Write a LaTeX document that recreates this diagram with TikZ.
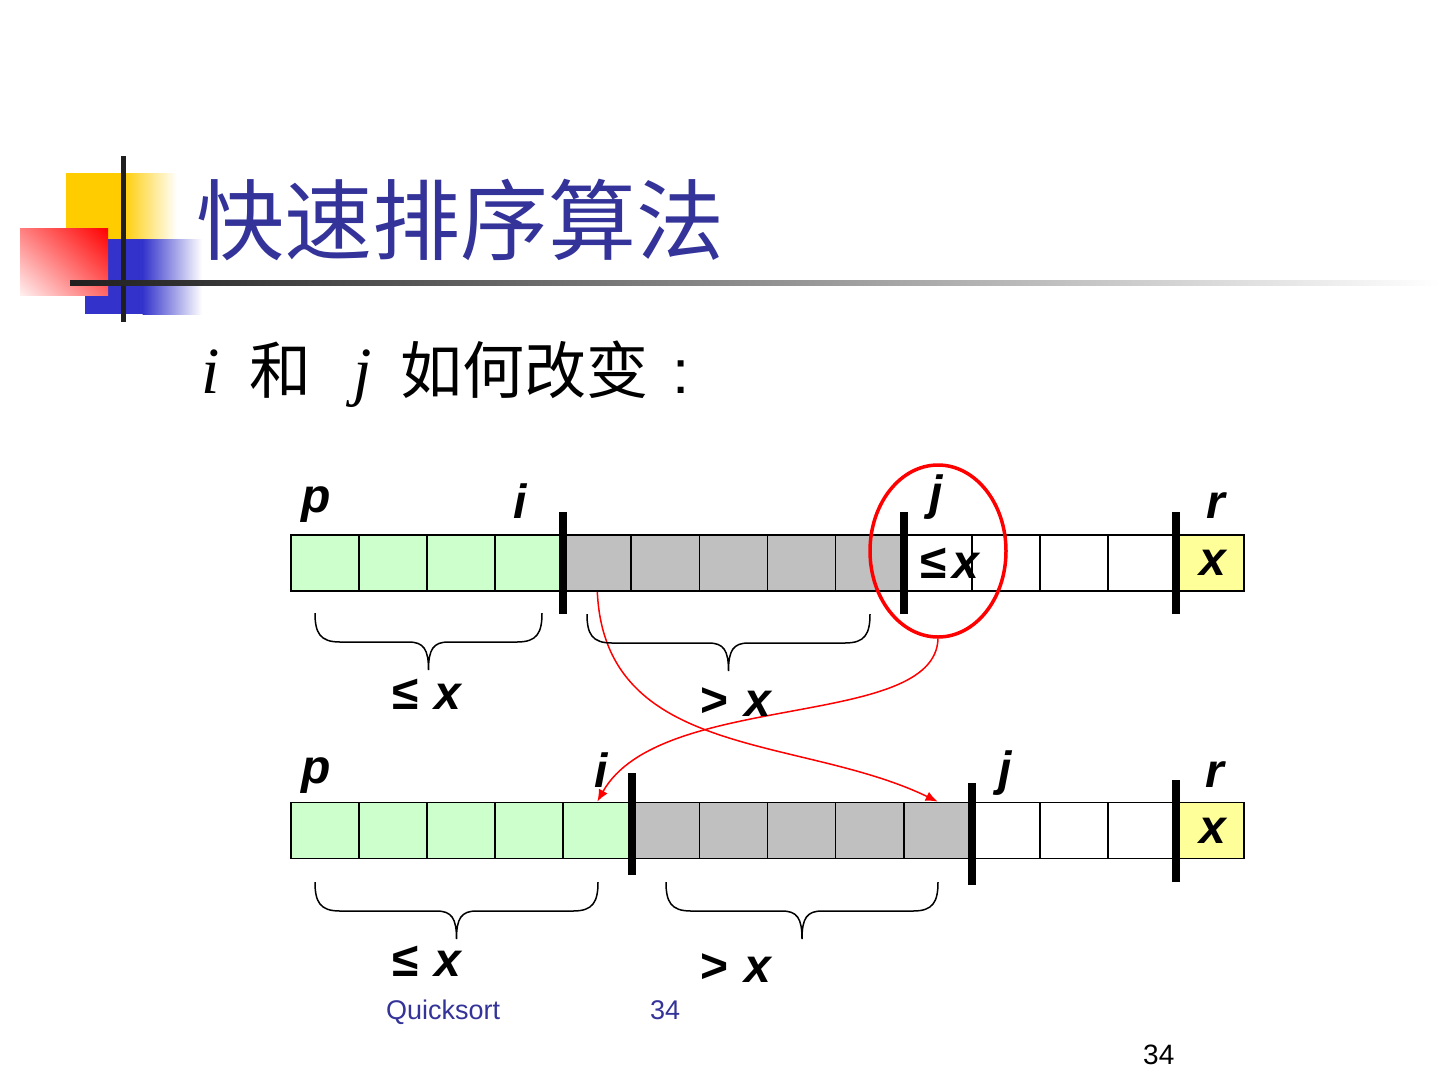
\documentclass[tikz,border=0pt]{standalone}
\usepackage{fontspec}
\setmainfont{Liberation Sans}
\newfontfamily\cjk{Noto Sans CJK SC}
\newfontfamily\timesf{Liberation Serif}
\usetikzlibrary{arrows.meta,shapes.geometric,shadings}

\definecolor{titleblue}{RGB}{51,51,153}
\definecolor{logoyellow}{RGB}{255,204,0}
\definecolor{logoblue}{RGB}{51,51,204}
\definecolor{lowc}{RGB}{204,255,204}
\definecolor{highc}{RGB}{192,192,192}
\definecolor{pivc}{RGB}{255,255,153}

\tikzset{
  cell/.style={draw,line width=1.8pt,minimum width=68.07pt,minimum height=56pt,inner sep=0pt,
    font=\fontsize{48}{50}\selectfont\bfseries\itshape},
  lab/.style={inner sep=0pt,font=\fontsize{48}{50}\selectfont\bfseries\itshape},
  bar/.style={line width=7.5pt},
  ring/.style={draw=red,ellipse,line width=3.5pt,minimum width=136pt,minimum height=172pt,inner sep=0pt},
  swap/.style={red,line width=1.5pt,-{Latex[length=12pt,width=10pt]}},
  brace/.style={line width=1.5pt},
  foot/.style={anchor=base west,inner sep=0pt,font=\fontsize{27}{29}\selectfont}
}

% 花括号：左端 x, 右端 x, 上端 y
\newcommand{\qbrace}[3]{%
  \draw[brace] ({#1},{#3}) .. controls ({#1},{#3+20}) and ({#1+5},{#3+29}) .. ({#1+25},{#3+29})
    -- ({(#1+#2)/2-20},{#3+29}) .. controls ({(#1+#2)/2-5},{#3+29}) and ({(#1+#2)/2},{#3+36}) .. ({(#1+#2)/2},{#3+57})
    .. controls ({(#1+#2)/2},{#3+36}) and ({(#1+#2)/2+5},{#3+29}) .. ({(#1+#2)/2+20},{#3+29})
    -- ({#2-25},{#3+29}) .. controls ({#2-5},{#3+29}) and ({#2},{#3+20}) .. ({#2},{#3});}

\begin{document}
\begin{tikzpicture}[x=1pt,y=-1pt]
\useasboundingbox (0,0) rectangle (1440,1080);
% 左上角的方块
\fill[logoyellow] (66,173) rectangle (122,240);
\shade[left color=logoyellow,right color=white] (121.5,173) rectangle (177,240);
\fill[logoblue] (85,239) rectangle (143,314);
\shade[left color=logoblue,right color=white] (142.5,239) rectangle (202,314);
\shade[upper right=red,upper left=red!50,lower right=red!60,lower left=red!6] (20,228) rectangle (108,295);
\fill[black!88] (120.5,156) rectangle (125.5,322);
\shade[left color=black!88,right color=white] (70,280.5) rectangle (1440,285.5);
% 标题
\node[anchor=base west,inner sep=0pt,text=titleblue,font=\cjk\fontsize{88}{90}\selectfont] (title) at (196,253) {快速排序算法};
\node[anchor=base west,inner sep=0pt,font=\timesf\itshape\fontsize{66}{68}\selectfont] (subi) at (201,393) {i};
\node[anchor=base west,inner sep=0pt,font=\cjk\fontsize{62}{64}\selectfont] (subhe) at (249,393) {和};
\node[anchor=base west,inner sep=0pt,font=\timesf\itshape\fontsize{66}{68}\selectfont] (subj) at (353,393) {j};
\node[anchor=base west,inner sep=0pt,font=\cjk\fontsize{62}{64}\selectfont] (subhow) at (400,393) {如何改变};
\node[anchor=base west,inner sep=0pt,font=\fontsize{62}{64}\selectfont] (subcol) at (672,393) {:};
% 第一行数组
\foreach \c/\t [count=\k] in {lowc/,lowc/,lowc/,lowc/,highc/,highc/,highc/,highc/,highc/,white/,white/,white/,white/,pivc/{\makebox[0pt]{\hspace{6pt}x}}}
  \node[cell,fill=\c] (a\k) at ({291+68.07*(\k-0.5)},563) {\t};
\node[lab] (lex) at (950,563) {{\upshape ≤}\hspace{6pt}x};
\draw[bar] (563,512) -- (563,614);
\draw[bar] (904,512) -- (904,614);
\draw[bar] (1176,512) -- (1176,614);
\node[lab,anchor=base] (p1) at (316,512) {p};
\node[lab,anchor=base] (i1) at (520,518) {i};
\node[lab,anchor=base] (j1) at (936,509) {j};
\node[lab,anchor=base] (r1) at (1216,518) {r};
% 第二行数组
\foreach \c/\t [count=\k] in {lowc/,lowc/,lowc/,lowc/,lowc/,highc/,highc/,highc/,highc/,highc/,white/,white/,white/,pivc/{\makebox[0pt]{\hspace{6pt}x}}}
  \node[cell,fill=\c] (b\k) at ({291+68.07*(\k-0.5)},830.5) {\t};
\draw[bar] (632,773) -- (632,875);
\draw[bar] (972,783) -- (972,885);
\draw[bar] (1176,780) -- (1176,882);
\node[lab,anchor=base] (p2) at (316,783) {p};
\node[lab,anchor=base] (i2) at (601,787) {i};
\node[lab,anchor=base] (j2) at (1005,785) {j};
\node[lab,anchor=base] (r2) at (1215,787) {r};
% 圈出 j 处的元素并交换
\node[ring] (ring) at (938,551) {};
\draw[swap] (ring.south) .. controls (935,730) and (660,690) .. (b5.north);
\draw[swap] (a5.south) .. controls (605,760) and (800,735) .. (b10.north);
% 花括号与说明
\qbrace{315}{542}{613}
\qbrace{587}{870}{614}
\qbrace{315}{598}{882}
\qbrace{666}{938}{882}
\node[lab] (le1) at (427,694) {{\upshape ≤}\hspace{16pt}x};
\node[lab] (gt1) at (736,702) {{\upshape >}\hspace{16pt}x};
\node[lab] (le2) at (427,961) {{\upshape ≤}\hspace{16pt}x};
\node[lab] (gt2) at (736,968) {{\upshape >}\hspace{16pt}x};
% 页脚
\node[foot,text=titleblue] (fname) at (386,1019) {Quicksort};
\node[foot,text=titleblue] (fnum) at (650,1019) {34};
\node[foot,font=\fontsize{28}{30}\selectfont] (pnum) at (1143,1064) {34};
\end{tikzpicture}
\end{document}
